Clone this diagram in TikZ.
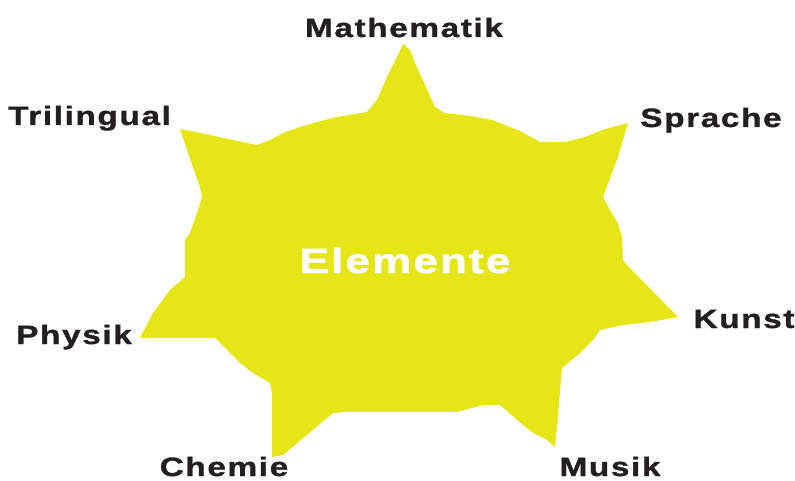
\documentclass[tikz,border=0pt]{standalone}
\usepackage{fontspec}
\newfontfamily\lblfont{Liberation Sans}[FakeStretch=1.26,LetterSpace=6,FakeBold=1.2]
\definecolor{staryellow}{RGB}{229,229,23}
\definecolor{labeldark}{RGB}{35,31,32}
\tikzset{
  lbl/.style={inner sep=0pt, anchor=base, text=labeldark, font=\lblfont\bfseries\fontsize{26.5}{30}\selectfont},
  centerlbl/.style={inner sep=0pt, anchor=base, text=white, font=\lblfont\bfseries\fontsize{35}{40}\selectfont}
}
\begin{document}
\begin{tikzpicture}[x=1pt,y=-1pt]
\useasboundingbox (0,0) rectangle (795,481);
\fill[staryellow] (403,44) -- (410,50) -- (415,63) -- (425,85) -- (435,107) -- (445,113) -- (470,116) -- (492,120) -- (507,126) -- (520,131) -- (540,142) -- (565,142) -- (585,137) -- (602,130) -- (628,123)
 -- (623,140) -- (618,157) -- (612,173) -- (603,197) -- (610,210) -- (618,223) -- (622,237) -- (623,260) -- (627,265) -- (678,317)
 -- (650,322) -- (623,325) -- (600,330) -- (593,340) -- (580,353) -- (562,368) -- (557,427) -- (555,447)
 -- (547,440) -- (533,433) -- (517,420) -- (500,405) -- (483,405) -- (457,412) -- (347,412) -- (333,413) -- (283,455) -- (272,457)
 -- (272,393) -- (270,383) -- (253,373) -- (240,363) -- (227,350) -- (215,338) -- (140,338)
 -- (153,313) -- (170,290) -- (185,277) -- (185,240) -- (190,233) -- (197,213) -- (202,197) -- (200,187) -- (195,173) -- (187,150) -- (180,129)
 -- (210,135) -- (233,140) -- (257,145) -- (270,140) -- (283,133) -- (300,127) -- (317,122) -- (337,117) -- (367,112) -- (377,100) -- (387,77) -- (398,55) -- cycle;
\node[lbl] (math) at (404,37) {Mathematik};
\node[lbl] (tri) at (89.5,125) {Trilingual};
\node[lbl] (spr) at (711,127) {Sprache};
\node[lbl] (kun) at (744,328) {Kunst};
\node[lbl] (phy) at (74,344) {Physik};
\node[lbl] (che) at (224,476) {Chemie};
\node[lbl] (mus) at (610,476) {Musik};
\node[centerlbl] (ele) at (405,273) {Elemente};
\end{tikzpicture}
\end{document}
